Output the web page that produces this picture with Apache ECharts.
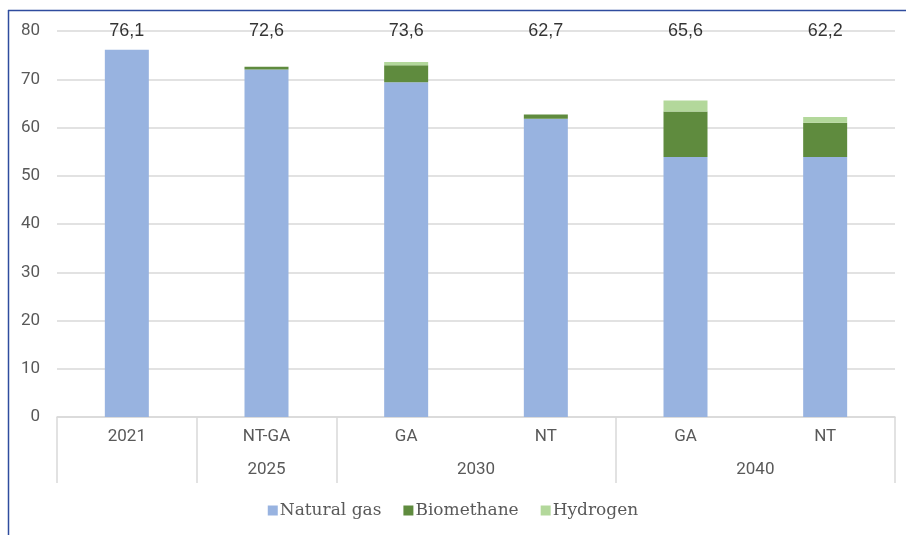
<!DOCTYPE html>
<html>
<head>
<meta charset="utf-8">
<script src="https://cdn.jsdelivr.net/npm/echarts@6/dist/echarts.min.js"></script>
<style>
  html, body { margin: 0; padding: 0; background: #fff; }
  #chart { width: 906px; height: 535px; }
</style>
</head>
<body>
<div id="chart"></div>
<script>
// Gas supply mix by year and scenario
const categories = ['2021', 'NT-GA', 'GA', 'NT', 'GA', 'NT'];
const groups = ['', '2025', '2030', '2030', '2040', '2040'];
const naturalGas = [76.1, 72.0, 69.4, 61.8, 53.9, 53.9];
const biomethane = [0, 0.6, 3.5, 0.9, 9.4, 7.1];
const hydrogen = [0, 0, 0.7, 0, 2.3, 1.2];
const yTicks = [0, 10, 20, 30, 40, 50, 60, 70, 80];

const totals = categories.map((_, i) => +(naturalGas[i] + biomethane[i] + hydrogen[i]).toFixed(1));
const fmt = v => v.toFixed(1).replace('.', ',');

// Second-level axis: boundaries between groups and group centres, in category units
const boundaries = [0];
for (let i = 1; i < groups.length; i++) {
  if (groups[i] !== groups[i - 1] || groups[i] === '') boundaries.push(i);
}
boundaries.push(groups.length);
const groupCentres = [];
const groupNames = {};
for (let b = 0; b < boundaries.length - 1; b++) {
  const name = groups[boundaries[b]];
  if (name) {
    const c = (boundaries[b] + boundaries[b + 1]) / 2;
    groupCentres.push(c);
    groupNames[c] = name;
  }
}

const axisGrey = '#595959';
const lineGrey = '#D9D9D9';
const chart = echarts.init(document.getElementById('chart'));
chart.setOption({
  animation: false,
  textStyle: { fontFamily: 'Roboto, sans-serif' },
  grid: { left: 57, right: 11, top: 31, bottom: 118, containLabel: false },
  legend: {
    bottom: 11, left: 'center',
    itemWidth: 10, itemHeight: 10, itemGap: 22,
    icon: 'rect',
    textStyle: { color: axisGrey, fontSize: 17, fontFamily: '"DejaVu Serif", serif', padding: [0, 0, 0, -3] },
    data: ['Natural gas', 'Biomethane', 'Hydrogen']
  },
  xAxis: [
    {
      type: 'category', data: categories, position: 'bottom',
      axisLine: { show: true, lineStyle: { color: lineGrey, width: 1.5 } },
      axisTick: { show: false },
      axisLabel: { color: axisGrey, fontSize: 17, margin: 11 }
    },
    {
      type: 'value', min: 0, max: categories.length, position: 'bottom',
      axisLine: { show: false },
      splitLine: { show: false },
      axisTick: { show: true, customValues: boundaries, length: 66, lineStyle: { color: lineGrey, width: 1.5 } },
      axisLabel: {
        customValues: groupCentres, color: axisGrey, fontSize: 17, margin: 44,
        formatter: v => groupNames[v] || ''
      }
    }
  ],
  yAxis: {
    type: 'value', min: 0, max: 80, interval: 10,
    axisLine: { show: false }, axisTick: { show: false },
    axisLabel: { color: axisGrey, fontSize: 17, margin: 17, customValues: yTicks },
    splitLine: { lineStyle: { color: lineGrey, width: 1.5 } }
  },
  series: [
    { name: 'Natural gas', type: 'bar', stack: 'gas', barWidth: 44, data: naturalGas,
      itemStyle: { color: '#98B3E0' } },
    { name: 'Biomethane', type: 'bar', stack: 'gas', barWidth: 44, data: biomethane,
      itemStyle: { color: '#5F8B3E' } },
    { name: 'Hydrogen', type: 'bar', stack: 'gas', barWidth: 44, data: hydrogen,
      itemStyle: { color: '#B3D89B' } },
    { name: 'Total', type: 'scatter', symbolSize: 0, silent: true,
      data: totals.map(() => 80),
      label: {
        show: true, position: 'inside', color: '#000', fontSize: 18,
        fontFamily: '"Liberation Sans", Arial, sans-serif',
        formatter: p => fmt(totals[p.dataIndex])
      },
      z: 5 }
  ],
  graphic: [
    { type: 'line', shape: { x1: 8, y1: 10.5, x2: 906, y2: 10.5 }, style: { stroke: '#2F4C9E', lineWidth: 1.5 } },
    { type: 'line', shape: { x1: 8.5, y1: 10, x2: 8.5, y2: 535 }, style: { stroke: '#2F4C9E', lineWidth: 1.5 } }
  ]
});
</script>
</body>
</html>
